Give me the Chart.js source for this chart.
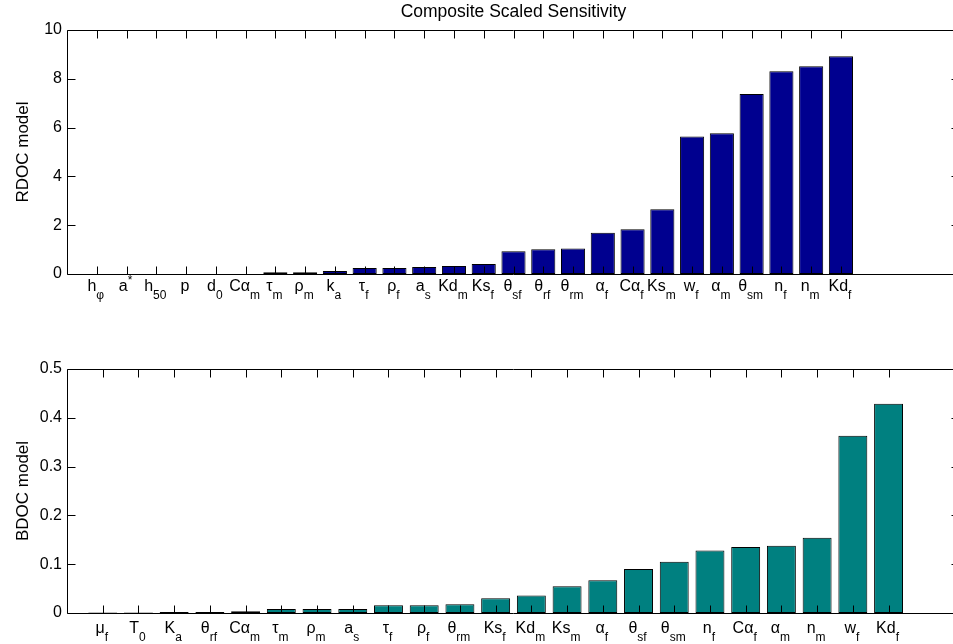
<!DOCTYPE html>
<html>
<head>
<meta charset="utf-8">
<script src="https://cdn.jsdelivr.net/npm/chart.js@4.4.0/dist/chart.umd.min.js"></script>
<style>
  html, body { margin: 0; padding: 0; background: #fff; overflow: hidden; }
  #wrap { position: relative; width: 953px; height: 644px; overflow: hidden; }
  #wrap canvas { position: absolute; left: 0; }
</style>
</head>
<body>
<div id="wrap">
  <canvas id="rdoc" width="962" height="330" style="top:0"></canvas>
  <canvas id="bdoc" width="962" height="314" style="top:330px"></canvas>
</div>
<script>
// parameter names, '_' = subscript, '^' = superscript
const rdocLabels = ['h_φ', 'a^*', 'h_50', 'p', 'd_0', 'Cα_m', 'τ_m', 'ρ_m', 'k_a', 'τ_f', 'ρ_f', 'a_s', 'Kd_m',
  'Ks_f', 'θ_sf', 'θ_rf', 'θ_rm', 'α_f', 'Cα_f', 'Ks_m', 'w_f', 'α_m', 'θ_sm', 'n_f', 'n_m', 'Kd_f']
const rdocValues = [0, 0, 0, 0, 0, 0, 0.07, 0.07, 0.12, 0.25, 0.25, 0.29, 0.33,
  0.41, 0.93, 1.01, 1.05, 1.69, 1.83, 2.65, 5.64, 5.77, 7.38, 8.31, 8.51, 8.92]

const bdocLabels = ['μ_f', 'T_0', 'K_a', 'θ_rf', 'Cα_m', 'τ_m', 'ρ_m', 'a_s', 'τ_f', 'ρ_f', 'θ_rm', 'Ks_f',
  'Kd_m', 'Ks_m', 'α_f', 'θ_sf', 'θ_sm', 'n_f', 'Cα_f', 'α_m', 'n_m', 'w_f', 'Kd_f']
const bdocValues = [0.001, 0.001, 0.002, 0.002, 0.0035, 0.008, 0.008, 0.008, 0.0158, 0.0158, 0.018, 0.030,
  0.036, 0.055, 0.067, 0.090, 0.105, 0.128, 0.135, 0.138, 0.154, 0.363, 0.429]

const rdocYTicks = [0, 2, 4, 6, 8, 10]
const bdocYTicks = [0, 0.1, 0.2, 0.3, 0.4, 0.5]

const FONT = "'Liberation Sans', Arial, Helvetica, sans-serif"
Chart.defaults.font.family = FONT
Chart.defaults.color = '#000'

function parseLabel(s) {
  let m = s.match(/^([^_^]*)([_^])(.*)$/)
  if (!m) return { main: s, kind: null, small: '' }
  return { main: m[1], kind: m[2], small: m[3] }
}

// matlab style box, inward ticks, tex-like tick labels
const matlabAxes = {
  id: 'matlabAxes',
  afterDraw(chart, args, opts) {
    let ctx = chart.ctx
    let { left, right, top, bottom } = chart.chartArea
    let x = chart.scales.x
    let y = chart.scales.y
    let L = Math.round(left) + 0.5
    let R = Math.round(right) - 0.5
    let T = Math.round(top) + 0.5
    let B = Math.round(bottom) + 0.5
    let tl = 8
    ctx.save()
    ctx.strokeStyle = '#000'
    ctx.lineWidth = 1
    ctx.beginPath()
    ctx.rect(L, T, R - L, B - T)
    opts.yTicks.forEach(v => {
      let py = Math.round(y.getPixelForValue(v)) + 0.5
      ctx.moveTo(L, py); ctx.lineTo(L + tl, py)
      ctx.moveTo(R, py); ctx.lineTo(R - tl, py)
    })
    opts.labels.forEach((lab, i) => {
      let px = Math.round(x.getPixelForValue(i + 1)) + 0.5
      ctx.moveTo(px, B); ctx.lineTo(px, B - tl)
      ctx.moveTo(px, T); ctx.lineTo(px, T + tl)
    })
    ctx.stroke()

    // category labels
    ctx.fillStyle = '#000'
    ctx.textBaseline = 'alphabetic'
    ctx.textAlign = 'left'
    opts.labels.forEach((lab, i) => {
      let p = parseLabel(lab)
      let px = x.getPixelForValue(i + 1)
      ctx.font = '16px ' + FONT
      let wMain = ctx.measureText(p.main).width
      ctx.font = '12px ' + FONT
      let wSmall = p.small ? ctx.measureText(p.small).width : 0
      let x0 = px - (wMain + wSmall) / 2 - 1
      let base = bottom + opts.labelOffset
      ctx.font = '16px ' + FONT
      ctx.fillText(p.main, x0, base)
      if (p.small) {
        ctx.font = '12px ' + FONT
        ctx.fillText(p.small, x0 + wMain, p.kind === '_' ? base + 8 : base - 7)
      }
    })

    // y axis title
    ctx.font = '17px ' + FONT
    ctx.textAlign = 'center'
    ctx.textBaseline = 'middle'
    ctx.save()
    ctx.translate(23, (top + bottom) / 2)
    ctx.rotate(-Math.PI / 2)
    ctx.fillText(opts.yTitle, 0, 0)
    ctx.restore()

    if (opts.title) {
      ctx.font = '17.5px ' + FONT
      ctx.fillText(opts.title, (left + right) / 2, 12)
    }
    ctx.restore()
  }
}

function makeChart(id, labels, values, yTicks, color, pad, extra) {
  let ymax = yTicks[yTicks.length - 1]
  return new Chart(document.getElementById(id), {
    type: 'bar',
    data: {
      datasets: [{
        data: values.map((v, i) => ({ x: i + 1, y: v })),
        backgroundColor: color,
        borderColor: '#000',
        borderWidth: 1,
        borderSkipped: false,
        categoryPercentage: 1,
        barPercentage: 0.81
      }]
    },
    options: {
      responsive: false,
      animation: false,
      devicePixelRatio: 1,
      layout: { padding: pad },
      plugins: {
        legend: { display: false },
        tooltip: { enabled: false },
        matlabAxes: Object.assign({ labels: labels, yTicks: yTicks }, extra)
      },
      scales: {
        x: {
          type: 'linear',
          offset: false,
          min: 0,
          max: extra.xMax,
          ticks: { display: false, stepSize: 1 },
          grid: { display: false, drawTicks: false, offset: false },
          border: { display: false },
          afterFit: s => { s.height = 0 }
        },
        y: {
          min: 0,
          max: ymax,
          ticks: { stepSize: yTicks[1] - yTicks[0], padding: 5, font: { size: 16 }, color: '#000' },
          grid: { display: false, drawTicks: false },
          border: { display: false },
          afterFit: s => { s.width = 67 }
        }
      }
    },
    plugins: [matlabAxes]
  })
}

makeChart('rdoc', rdocLabels, rdocValues, rdocYTicks, '#00008f',
  { top: 30, right: 2, bottom: 56, left: 0 },
  { xMax: 30, yTitle: 'RDOC model', title: 'Composite Scaled Sensitivity', labelOffset: 17 })

makeChart('bdoc', bdocLabels, bdocValues, bdocYTicks, '#008080',
  { top: 39, right: 2, bottom: 31, left: 0 },
  { xMax: 25, yTitle: 'BDOC model', labelOffset: 20 })
</script>
</body>
</html>
